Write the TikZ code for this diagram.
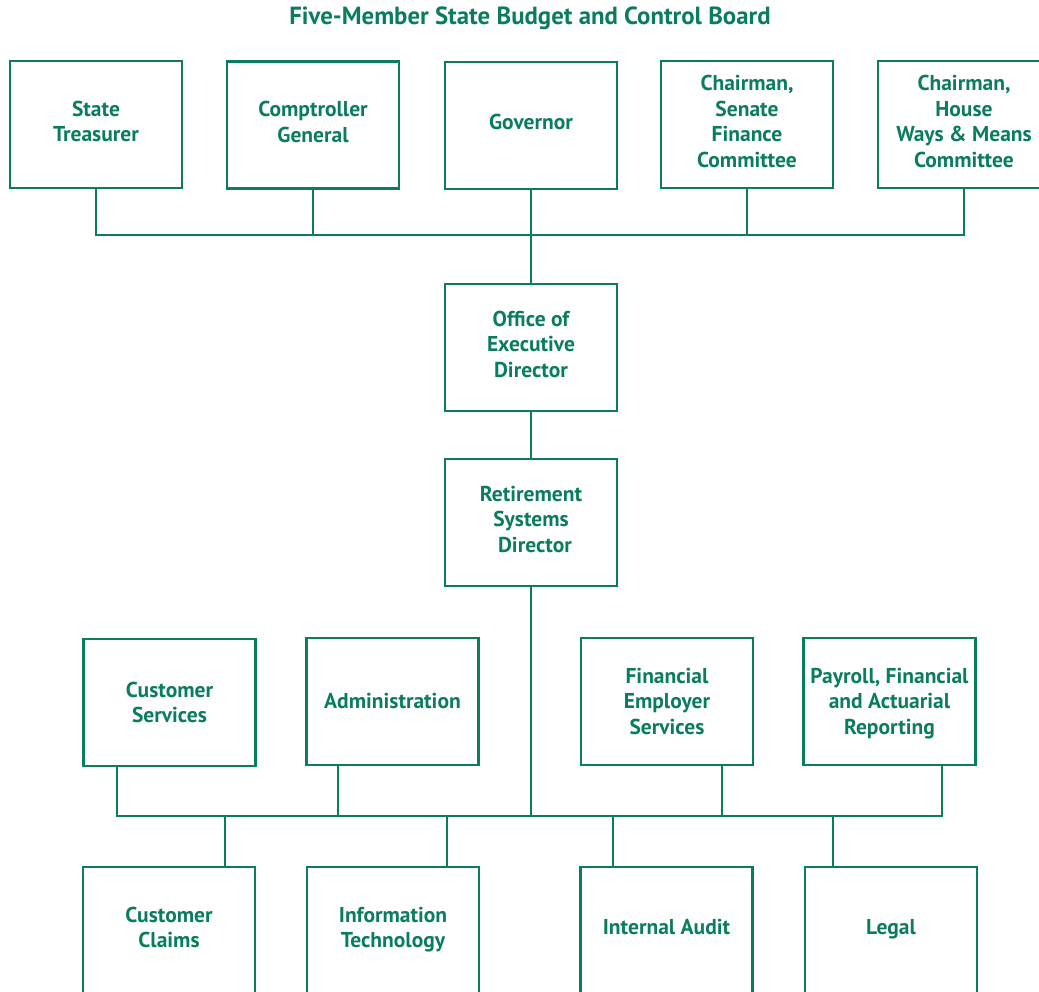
\documentclass[tikz,border=0pt]{standalone}
\usepackage{fontspec}
\setmainfont{PT Sans}
\definecolor{org}{HTML}{0B7D5F}
\begin{document}
\begin{tikzpicture}[x=1pt,y=-1pt,
  box/.style={draw=org,line width=2.8pt,fill=white,minimum width=172pt,minimum height=127pt,inner sep=0pt,text depth=6.5pt,align=center,text=org,font=\fontsize{21.5}{25.5}\selectfont\bfseries},
  midbox/.style={box,text depth=0.5pt},
  link/.style={draw=org,line width=2.8pt}]
\useasboundingbox (0,0) rectangle (1039,992);
\clip (0,0) rectangle (1039,992);
\node[text=org,font=\fontsize{24.8}{28}\selectfont\bfseries] (title) at (530,18.5) {Five-Member State Budget and Control Board};
% top row
\node[box] (st) at (96,124.5) {State\\Treasurer};
\node[box] (cg) at (313,125) {Comptroller\\General};
\node[box] (gov) at (531,125.5) {Governor};
\node[box] (sf) at (747,124.5) {Chairman,\\Senate\\Finance\\Committee};
\node[box] (hw) at (964,124.5) {Chairman,\\House\\Ways \& Means\\Committee};
\node[box] (oed) at (531,347.5) {Office of\\Executive\\Director};
\node[box] (rsd) at (531,522.5) {Retirement\\Systems\\\hspace*{8pt}Director};
% middle row
\node[midbox] (cs) at (169.5,702.5) {Customer\\Services};
\node[midbox] (adm) at (392.5,701.5) {Administration};
\node[midbox] (fes) at (667,701.5) {Financial\\Employer\\Services};
\node[midbox] (pfa) at (889.5,701.5) {Payroll, Financial\\and Actuarial\\Reporting};
% bottom row
\node[box] (cc) at (169,930.5) {Customer\\Claims};
\node[box] (it) at (393,930.5) {Information\\Technology};
\node[box] (ia) at (666.5,930.5) {Internal Audit};
\node[box] (lg) at (891,930.5) {Legal};
% upper bus
\coordinate (ub) at (531,235);
\draw[link] (st.south) -- (st.south |- ub) -- (hw.south |- ub) -- (hw.south);
\draw[link] (cg.south) -- (cg.south |- ub);
\draw[link] (sf.south) -- (sf.south |- ub);
\draw[link] (gov.south) -- (oed.north);
\draw[link] (oed.south) -- (rsd.north);
% lower bus
\coordinate (lb) at (531,816);
\coordinate (m1) at (117,816);
\coordinate (m2) at (338,816);
\coordinate (m3) at (722,816);
\coordinate (m4) at (942,816);
\coordinate (d1) at (225,816);
\coordinate (d2) at (447,816);
\coordinate (d3) at (613,816);
\coordinate (d4) at (833,816);
\draw[link] (rsd.south) -- (lb);
\draw[link] (m1 |- cs.south) -- (m1) -- (m4) -- (m4 |- pfa.south);
\draw[link] (m2 |- adm.south) -- (m2);
\draw[link] (m3 |- fes.south) -- (m3);
\draw[link] (d1) -- (d1 |- cc.north);
\draw[link] (d2) -- (d2 |- it.north);
\draw[link] (d3) -- (d3 |- ia.north);
\draw[link] (d4) -- (d4 |- lg.north);
\end{tikzpicture}
\end{document}
